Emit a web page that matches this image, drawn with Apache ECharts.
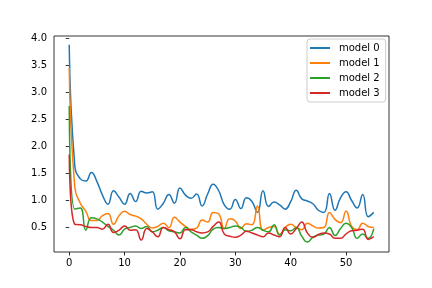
<!DOCTYPE html>
<html>
<head>
<meta charset="utf-8">
<script src="https://cdn.jsdelivr.net/npm/echarts@6/dist/echarts.min.js"></script>
<style>
html,body{margin:0;padding:0;background:#fff;}
#chart{width:432px;height:288px;}
</style>
</head>
<body>
<div id="chart"></div>
<script>
var seriesNames = ['model 0', 'model 1', 'model 2', 'model 3'];
var xTicks = [0, 10, 20, 30, 40, 50];
var yTicks = [0.5, 1.0, 1.5, 2.0, 2.5, 3.0, 3.5, 4.0];

var model0 = [3.88,1.65,1.40,1.36,1.52,1.35,1.10,0.93,1.18,1.06,0.93,1.13,0.98,1.17,1.14,1.16,0.84,0.95,1.11,0.95,
  1.23,1.10,1.04,1.12,0.90,1.12,1.30,1.18,0.92,0.84,1.02,0.85,1.05,0.98,0.78,1.18,0.89,0.97,0.92,0.84,
  0.98,1.19,1.03,0.99,0.94,0.82,0.78,1.13,0.82,1.05,1.16,1.00,0.86,1.11,0.70,0.78];
var model1 = [3.45,1.25,0.95,0.80,0.63,0.63,0.72,0.76,0.56,0.72,0.80,0.74,0.71,0.66,0.56,0.49,0.52,0.58,0.50,0.69,
  0.60,0.52,0.47,0.49,0.64,0.60,0.78,0.75,0.48,0.66,0.62,0.48,0.57,0.55,0.90,0.45,0.50,0.52,0.37,0.50,
  0.56,0.50,0.46,0.58,0.53,0.49,0.50,0.78,0.65,0.59,0.80,0.52,0.46,0.58,0.52,0.50];
var model2 = [2.75,0.84,0.86,0.45,0.68,0.66,0.60,0.52,0.45,0.36,0.47,0.50,0.53,0.48,0.52,0.42,0.45,0.50,0.44,0.42,
  0.40,0.50,0.42,0.36,0.30,0.35,0.47,0.50,0.48,0.50,0.53,0.50,0.43,0.45,0.50,0.45,0.42,0.55,0.36,0.46,
  0.44,0.50,0.34,0.23,0.32,0.36,0.38,0.50,0.35,0.48,0.58,0.50,0.30,0.38,0.30,0.48];
var model3 = [1.85,0.56,0.55,0.52,0.50,0.50,0.47,0.56,0.41,0.45,0.53,0.45,0.46,0.27,0.48,0.42,0.33,0.50,0.46,0.42,
  0.29,0.46,0.46,0.42,0.40,0.42,0.52,0.60,0.38,0.34,0.32,0.36,0.43,0.40,0.36,0.33,0.40,0.36,0.33,0.50,
  0.38,0.48,0.60,0.40,0.32,0.37,0.40,0.38,0.30,0.30,0.38,0.44,0.45,0.47,0.28,0.33];

var allData = [model0, model1, model2, model3];
var colors = ['#1f77b4', '#ff7f0e', '#2ca02c', '#d62728'];

function toPairs(arr) {
  return arr.map(function (v, i) { return [i, v]; });
}

var chart = echarts.init(document.getElementById('chart'), null, {renderer: 'canvas'});
var font = 'DejaVu Sans';
chart.setOption({
  animation: false,
  backgroundColor: '#fff',
  color: colors,
  grid: {left: 54, right: 43, top: 36, bottom: 36, show: true, borderColor: '#000', borderWidth: 0.8, backgroundColor: 'transparent'},
  legend: {
    orient: 'vertical',
    left: 307,
    top: 39,
    padding: [3, 6, 3, 3],
    itemGap: 3,
    itemWidth: 20,
    itemHeight: 2,
    icon: 'rect',
    backgroundColor: 'rgba(255,255,255,0.8)',
    borderColor: '#cccccc',
    borderWidth: 1,
    borderRadius: 3,
    textStyle: {fontFamily: font, fontSize: 10, color: '#000', lineHeight: 12, padding: [0, 0, 0, 4]},
    data: seriesNames
  },
  xAxis: {
    type: 'value',
    min: -2.75,
    max: 57.75,
    splitLine: {show: false},
    axisLine: {show: false},
    axisTick: {show: true, length: 3.5, lineStyle: {color: '#000', width: 0.8}, customValues: xTicks},
    axisLabel: {customValues: xTicks, fontFamily: font, fontSize: 10, color: '#000', margin: 6}
  },
  yAxis: {
    type: 'value',
    min: 0.047,
    max: 4.043,
    splitLine: {show: false},
    axisLine: {show: false},
    axisTick: {show: true, length: 3.5, lineStyle: {color: '#000', width: 0.8}, customValues: yTicks},
    axisLabel: {customValues: yTicks, fontFamily: font, fontSize: 10, color: '#000', margin: 7,
      formatter: function (v) { return v.toFixed(1); }}
  },
  series: seriesNames.map(function (name, k) {
    return {
      name: name,
      type: 'line',
      data: toPairs(allData[k]),
      smooth: 0.5,
      showSymbol: false,
      symbol: 'none',
      lineStyle: {width: 1.5, color: colors[k]},
      itemStyle: {color: colors[k]},
      z: 2 + k
    };
  })
});
</script>
</body>
</html>
